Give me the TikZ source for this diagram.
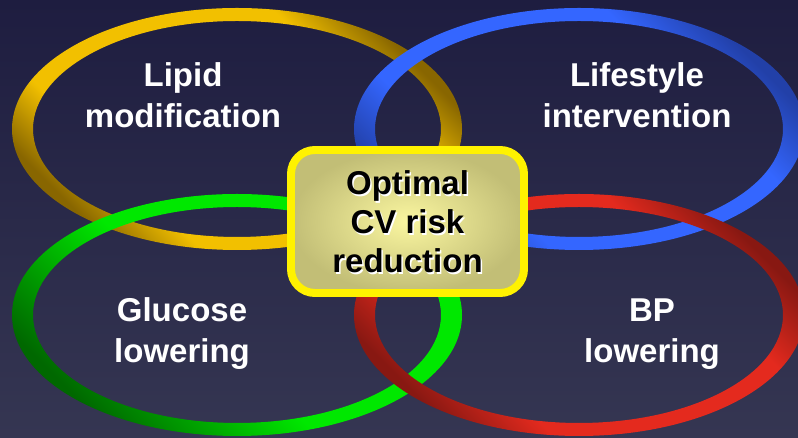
\documentclass[tikz,border=0pt]{standalone}
\usepackage{fontspec}
\setmainfont{Liberation Sans}
\usepackage{xcolor}
\usepackage{tikz}
\usetikzlibrary{positioning}

\definecolor{bgtop}{RGB}{30,29,64}
\definecolor{bgbot}{RGB}{53,54,82}
\definecolor{goldlite}{RGB}{242,192,0}
\definecolor{golddark}{RGB}{136,102,0}
\definecolor{bluelite}{RGB}{52,102,255}
\definecolor{bluedark}{RGB}{34,64,168}
\definecolor{greenlite}{RGB}{0,232,0}
\definecolor{greendark}{RGB}{0,104,0}
\definecolor{redlite}{RGB}{228,42,30}
\definecolor{reddark}{RGB}{136,24,18}
\definecolor{boxlite}{RGB}{250,246,160}
\definecolor{boxdark}{RGB}{194,190,118}

\pgfdeclareverticalshading{goldring}{100bp}{color(0bp)=(golddark); color(25bp)=(golddark); color(34bp)=(goldlite); color(66bp)=(goldlite); color(75bp)=(golddark); color(100bp)=(golddark)}
\pgfdeclareverticalshading{bluering}{100bp}{color(0bp)=(bluedark); color(25bp)=(bluedark); color(35bp)=(bluelite); color(65bp)=(bluelite); color(75bp)=(bluedark); color(100bp)=(bluedark)}
\pgfdeclareverticalshading{greenring}{100bp}{color(0bp)=(greendark); color(25bp)=(greendark); color(46bp)=(greenlite); color(100bp)=(greenlite)}
\pgfdeclareverticalshading{redring}{100bp}{color(0bp)=(reddark); color(25bp)=(reddark); color(35bp)=(redlite); color(65bp)=(redlite); color(75bp)=(reddark); color(100bp)=(reddark)}

\begin{document}
\begin{tikzpicture}[x=1bp,y=1bp,
  ringtext/.style={anchor=base,align=center,text=white,font=\fontsize{33bp}{41bp}\selectfont\bfseries},
  goaltext/.style={anchor=base,align=center,font=\fontsize{33bp}{39bp}\selectfont\bfseries}]
\useasboundingbox (0,0) rectangle (798,438);
\shade[top color=bgtop,bottom color=bgbot] (0,0) rectangle (798,438);
% the four rings: gold, blue, green, red (later ones on top)
\foreach \cx/\cy/\shd in {237/309/goldring,579/309/bluering,237/123/greenring,579/123/redring}{
  \shade[even odd rule,shading=\shd,shading angle=-45] (\cx,\cy) ellipse [x radius=225,y radius=121]
    (\cx,\cy) ellipse [x radius=204,y radius=108];
}
\node[ringtext] (lipid) at (183,310) {Lipid\\modification};
\node[ringtext] (lifestyle) at (637,310) {Lifestyle\\intervention};
\node[ringtext] (glucose) at (182,75) {Glucose\\lowering};
\node[ringtext] (bp) at (652,75) {BP\\lowering};
% centre box
\shade[inner color=boxlite,outer color=boxdark,rounded corners=24] (291,145) rectangle (524,288);
\draw[yellow,line width=8,rounded corners=24] (291,145) rectangle (524,288);
\node[goaltext,text=white] (goalshadow) at (409,163.5) {Optimal\\CV risk\\reduction};
\node[goaltext,text=black] (goal) at (407.5,165) {Optimal\\CV risk\\reduction};
\end{tikzpicture}
\end{document}
